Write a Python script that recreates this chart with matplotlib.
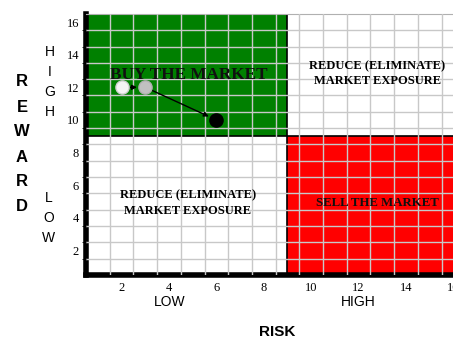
import numpy as np
import matplotlib
matplotlib.use("Agg")
import matplotlib.pyplot as plt
from matplotlib.patches import Rectangle

# donnees
risk = [2, 3, 6]
reward = [12, 12, 10]
x_ticks = [2, 4, 6, 8, 10, 12, 14, 16]
y_ticks = [2, 4, 6, 8, 10, 12, 14, 16]
risk_split = 9
reward_split = 9
quadrant_labels = ["BUY THE MARKET", "REDUCE (ELIMINATE)\nMARKET EXPOSURE",
                   "REDUCE (ELIMINATE)\nMARKET EXPOSURE", "SELL THE MARKET"]

serif = "Liberation Serif"
sans = "Liberation Sans"

fig = plt.figure(figsize=(4.53, 3.39), dpi=100)
ax = fig.add_axes([0.19, 0.189, 0.837, 0.77])
ax.set_xlim(0.5, 16.5)
ax.set_ylim(0.5, 16.5)

# quadrants
ax.add_patch(Rectangle((0.5, reward_split), risk_split - 0.5, 16.5 - reward_split,
                       facecolor="#008000", edgecolor="black", lw=1.2, zorder=1))
ax.add_patch(Rectangle((risk_split, 0.5), 16.5 - risk_split, reward_split - 0.5,
                       facecolor="#ff0000", edgecolor="black", lw=1.2, zorder=1))

# grille decalee d'une demi-unite
ax.set_xticks(x_ticks)
ax.set_yticks(y_ticks)
ax.set_xticks(np.arange(1.5, 16.5, 1), minor=True)
ax.set_yticks(np.arange(1.5, 16.5, 1), minor=True)
ax.grid(which="minor", color="#c8c8c8", lw=1)
ax.set_axisbelow(False)
ax.tick_params(which="major", length=0, labelsize=9, pad=5)
ax.tick_params(which="minor", axis="y", length=3, color="black")
ax.tick_params(which="minor", axis="x", length=0)
for lab in ax.get_xticklabels() + ax.get_yticklabels():
    lab.set_fontfamily(serif)

for s in ["left", "bottom"]:
    ax.spines[s].set_linewidth(4)
ax.spines["top"].set_color("#b0b0b0")
ax.spines["right"].set_visible(False)

# textes des quadrants
ax.text(4.85, 12.75, quadrant_labels[0], fontfamily=serif, fontweight="bold",
        fontsize=12.3, ha="center", va="center", color="#101010", zorder=3)
ax.text(12.8, 12.85, quadrant_labels[1], fontfamily=serif, fontweight="bold",
        fontsize=9, ha="center", va="center", linespacing=1.35, zorder=3)
ax.text(4.8, 4.9, quadrant_labels[2], fontfamily=serif, fontweight="bold",
        fontsize=9, ha="center", va="center", linespacing=1.35, zorder=3)
ax.text(12.8, 4.9, quadrant_labels[3], fontfamily=serif, fontweight="bold",
        fontsize=9.3, ha="center", va="center", color="#101010", zorder=3)

# points et fleches
ax.annotate("", xy=(risk[1], reward[1]), xytext=(risk[0], reward[0]),
            arrowprops=dict(arrowstyle="-|>", color="black", lw=1,
                            mutation_scale=7, shrinkA=6, shrinkB=6), zorder=4)
ax.annotate("", xy=(risk[2], reward[2]), xytext=(risk[1], reward[1]),
            arrowprops=dict(arrowstyle="-|>", color="black", lw=1,
                            mutation_scale=7, shrinkA=5, shrinkB=6), zorder=4)
ax.plot(risk[0], reward[0], "o", ms=9.5, mfc="#f4f4f4", mec="#d0d0d0", zorder=5)
ax.plot(risk[1], reward[1], "o", ms=9.5, mfc="#c0c0c0", mec="#b0b0b0", zorder=5)
ax.plot(risk[2], reward[2], "o", ms=9.5, mfc="black", mec="black", zorder=5)

# titres des axes
fig.text(170 / 453, 1 - 302 / 339, "LOW", fontfamily=sans, fontsize=10, ha="center", va="center")
fig.text(358 / 453, 1 - 302 / 339, "HIGH", fontfamily=sans, fontsize=10, ha="center", va="center")
fig.text(277 / 453, 1 - 332 / 339, "RISK", fontfamily=sans, fontsize=11,
         fontweight="bold", ha="center", va="center")

for i, c in enumerate("REWARD"):
    fig.text(22 / 453, 1 - (82 + 25 * i) / 339, c, fontfamily=sans, fontsize=12,
             fontweight="bold", ha="center", va="center")
for i, c in enumerate("HIGH"):
    fig.text(50 / 453, 1 - (52 + 20 * i) / 339, c, fontfamily=sans, fontsize=10,
             ha="center", va="center")
for i, c in enumerate("LOW"):
    fig.text(49 / 453, 1 - (198 + 20 * i) / 339, c, fontfamily=sans, fontsize=10,
             ha="center", va="center")

fig.savefig("out.png", dpi=100)
